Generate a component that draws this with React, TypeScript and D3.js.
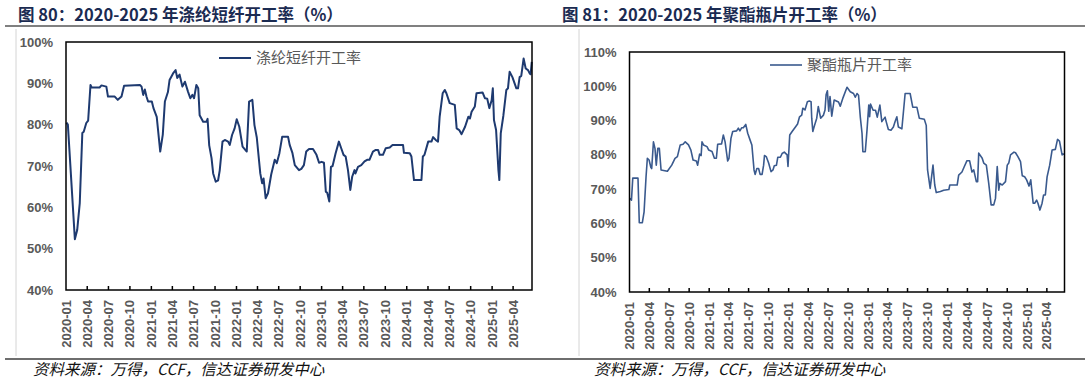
import React from 'react';
import * as d3 from 'd3';

// 涤纶短纤开工率 (%), weekly readings
const fiberDates = [
  '2020-01-03', '2020-01-09', '2020-02-08', '2020-02-18', '2020-02-29', '2020-03-11', '2020-03-17', '2020-03-28',
  '2020-04-05', '2020-04-15', '2020-04-20', '2020-05-24', '2020-06-01', '2020-06-22', '2020-06-29', '2020-07-28',
  '2020-08-10', '2020-08-26', '2020-09-06', '2020-11-13', '2020-11-20', '2020-11-27', '2020-12-04', '2020-12-11',
  '2020-12-18', '2021-01-03', '2021-01-10', '2021-01-24', '2021-02-08', '2021-02-19', '2021-02-28', '2021-03-13',
  '2021-03-20', '2021-04-04', '2021-04-15', '2021-04-22', '2021-05-02', '2021-05-14', '2021-05-25', '2021-06-07',
  '2021-06-17', '2021-06-26', '2021-07-03', '2021-07-13', '2021-07-21', '2021-07-27', '2021-08-11', '2021-08-25',
  '2021-08-30', '2021-09-06', '2021-09-16', '2021-09-23', '2021-10-04', '2021-10-14', '2021-10-21', '2021-11-02',
  '2021-11-12', '2021-11-26', '2021-12-03', '2021-12-13', '2021-12-24', '2022-01-02', '2022-01-13', '2022-01-27',
  '2022-02-14', '2022-02-24', '2022-03-10', '2022-03-19', '2022-03-29', '2022-04-13', '2022-04-21', '2022-04-27',
  '2022-05-06', '2022-05-16', '2022-05-30', '2022-06-14', '2022-06-23', '2022-07-04', '2022-07-16', '2022-08-10',
  '2022-08-17', '2022-08-29', '2022-09-08', '2022-09-26', '2022-10-06', '2022-10-17', '2022-10-27', '2022-11-08',
  '2022-11-25', '2022-12-10', '2022-12-21', '2023-01-01', '2023-01-11', '2023-01-19', '2023-01-25', '2023-02-03',
  '2023-02-10', '2023-02-17', '2023-03-02', '2023-03-16', '2023-03-26', '2023-04-05', '2023-04-14', '2023-04-24',
  '2023-05-04', '2023-05-12', '2023-05-22', '2023-05-26', '2023-06-06', '2023-06-20', '2023-07-04', '2023-07-15',
  '2023-07-25', '2023-08-09', '2023-08-21', '2023-08-31', '2023-09-07', '2023-09-21', '2023-10-03', '2023-10-20',
  '2023-11-01', '2023-12-16', '2023-12-20', '2024-01-14', '2024-01-21', '2024-02-01', '2024-03-04', '2024-03-10',
  '2024-03-17', '2024-04-02', '2024-04-16', '2024-04-23', '2024-05-04', '2024-05-14', '2024-05-21', '2024-06-03',
  '2024-06-12', '2024-06-19', '2024-07-03', '2024-07-25', '2024-08-02', '2024-08-13', '2024-08-23', '2024-09-07',
  '2024-09-21', '2024-09-28', '2024-10-05', '2024-10-19', '2024-10-26', '2024-11-21', '2024-12-01', '2024-12-11',
  '2024-12-20', '2024-12-30', '2025-01-04', '2025-01-09', '2025-01-18', '2025-01-28', '2025-02-01', '2025-02-07',
  '2025-02-18', '2025-03-03', '2025-03-10', '2025-03-17', '2025-03-29', '2025-04-15', '2025-04-22', '2025-04-29',
  '2025-05-06', '2025-05-16', '2025-05-25', '2025-06-04', '2025-06-11', '2025-06-15', '2025-06-20',
];
const fiberRates = [
  80.5, 80, 52.3, 54.5, 61, 78, 78.3, 80.4,
  81, 89.6, 89, 89, 89.5, 89.2, 86.8, 86.8,
  86, 86.8, 89.4, 89.6, 89.2, 87.2, 88.5, 86.8,
  85.6, 85.6, 84, 81.9, 73.5, 77.6, 85.6, 87.9,
  90.8, 92.4, 93.2, 91.3, 92.1, 89.2, 90.4, 88,
  86.4, 87.2, 86.4, 89.6, 88.8, 82.3, 80.7, 80.7,
  81.4, 75, 71.9, 68.2, 66.2, 66.5, 68.9, 75.9,
  76.3, 75.9, 75.1, 77.5, 79.1, 81.3, 79.5, 74.7,
  73.5, 85.6, 86, 79.9, 76.9, 68.2, 65.8, 67,
  62.2, 63.4, 68, 71.5, 70.7, 73.1, 77.1, 77.1,
  75.1, 73.1, 70.2, 69, 69.3, 70.2, 73.5, 74.1,
  74.1, 72.7, 70.8, 71, 70.8, 63.8, 63.5, 61.4,
  69.8, 70, 73.1, 75.9, 74.3, 72.7, 72.3, 69,
  64.2, 67.4, 69, 68.2, 69.8, 70.2, 71.1, 71.5,
  71.5, 73.5, 73.9, 73.9, 72.7, 72.7, 74.3, 74.5,
  75.1, 75.1, 73.2, 73.1, 72.3, 66.6, 66.6, 72.3,
  72.7, 75.9, 75.9, 77, 76.3, 75.9, 81.9, 87.6,
  88.4, 87.6, 85.2, 84.8, 79.1, 78.7, 77.7, 79.5,
  81.9, 81.5, 83.1, 84.4, 87.6, 87.8, 86.4, 86.3,
  84, 85.9, 88.8, 81.1, 78.7, 69, 66.6, 77.9,
  82.1, 88.4, 88.8, 92.8, 91.5, 88.8, 88.8, 91.5,
  91.8, 96, 93.6, 93.2, 92.4, 92.2, 95.2,
];

// 聚酯瓶片开工率 (%)
const chipDates = [
  '2020-01-03', '2020-01-10', '2020-01-16', '2020-02-09', '2020-02-15', '2020-02-29', '2020-03-08', '2020-03-17',
  '2020-03-23', '2020-03-31', '2020-04-08', '2020-04-12', '2020-04-20', '2020-04-27', '2020-05-03', '2020-05-10',
  '2020-05-17', '2020-05-25', '2020-06-23', '2020-07-13', '2020-07-28', '2020-08-08', '2020-08-21', '2020-09-03',
  '2020-09-13', '2020-09-28', '2020-10-09', '2020-10-19', '2020-11-03', '2020-11-09', '2020-11-18', '2020-11-25',
  '2020-11-29', '2020-12-06', '2020-12-22', '2020-12-30', '2021-01-14', '2021-01-25', '2021-02-03', '2021-02-09',
  '2021-02-27', '2021-03-07', '2021-03-15', '2021-03-27', '2021-04-02', '2021-04-11', '2021-04-19', '2021-05-07',
  '2021-05-15', '2021-05-22', '2021-05-30', '2021-06-07', '2021-06-18', '2021-06-27', '2021-07-08', '2021-07-16',
  '2021-07-26', '2021-07-31', '2021-08-08', '2021-08-16', '2021-08-23', '2021-09-01', '2021-09-08', '2021-09-12',
  '2021-09-20', '2021-10-01', '2021-10-12', '2021-10-21', '2021-10-27', '2021-11-06', '2021-11-12', '2021-11-24',
  '2021-12-02', '2021-12-12', '2021-12-25', '2021-12-29', '2022-01-06', '2022-01-17', '2022-02-02', '2022-02-11',
  '2022-02-20', '2022-03-02', '2022-03-07', '2022-03-17', '2022-03-28', '2022-04-06', '2022-04-14', '2022-04-17',
  '2022-04-22', '2022-04-28', '2022-05-10', '2022-05-17', '2022-05-28', '2022-06-10', '2022-06-17', '2022-06-22',
  '2022-06-28', '2022-07-04', '2022-07-10', '2022-07-18', '2022-07-29', '2022-08-18', '2022-08-26', '2022-09-08',
  '2022-09-26', '2022-10-11', '2022-10-26', '2022-11-03', '2022-11-11', '2022-11-18', '2022-11-26', '2022-12-04',
  '2022-12-08', '2022-12-19', '2022-12-27', '2023-01-04', '2023-01-08', '2023-01-12', '2023-01-24', '2023-02-04',
  '2023-02-12', '2023-02-24', '2023-03-05', '2023-03-20', '2023-03-25', '2023-04-04', '2023-04-16', '2023-04-27',
  '2023-05-05', '2023-05-13', '2023-05-20', '2023-06-05', '2023-06-20', '2023-07-13', '2023-07-25', '2023-08-13',
  '2023-08-24', '2023-09-16', '2023-09-25', '2023-10-01', '2023-10-13', '2023-10-26', '2023-11-03', '2023-11-10',
  '2023-11-29', '2023-12-14', '2024-01-07', '2024-01-11', '2024-02-14', '2024-02-21', '2024-03-07', '2024-03-18',
  '2024-03-30', '2024-04-11', '2024-04-22', '2024-04-30', '2024-05-12', '2024-05-18', '2024-05-23', '2024-06-08',
  '2024-06-15', '2024-06-27', '2024-07-08', '2024-07-19', '2024-07-31', '2024-08-08', '2024-08-16', '2024-08-23',
  '2024-08-28', '2024-09-08', '2024-09-23', '2024-10-01', '2024-10-08', '2024-10-16', '2024-11-01', '2024-11-08',
  '2024-11-19', '2024-12-01', '2024-12-09', '2024-12-20', '2024-12-29', '2025-01-09', '2025-01-17', '2025-01-28',
  '2025-02-04', '2025-02-13', '2025-02-19', '2025-02-28', '2025-03-10', '2025-03-17', '2025-03-25', '2025-04-02',
  '2025-04-14', '2025-04-25', '2025-05-10', '2025-05-20', '2025-05-29', '2025-06-10', '2025-06-21',
];
const chipRates = [
  67.3, 66.8, 73.2, 73.2, 60.2, 60.2, 63.4, 73.6,
  79, 78.5, 76.4, 76, 83.8, 81.9, 77, 81.9,
  81.9, 75.6, 75.2, 77, 79, 79.5, 82.9, 83.1,
  83.8, 82.9, 81.4, 78.5, 78.2, 77, 80.2, 79.8,
  83.8, 82.9, 82.4, 81.4, 81, 79, 79, 83.1,
  83.2, 85.8, 83.8, 78.2, 79, 84.8, 86.8, 87,
  87.8, 87, 87.9, 87.9, 88.9, 86.3, 84.3, 82.9,
  75.6, 74.3, 76, 76, 74.3, 74.3, 77, 79.8,
  79.5, 77.6, 75.1, 75.6, 76.8, 77, 79.3, 79.3,
  80.4, 80.8, 80, 76.6, 85.8, 86.8, 88.2, 89,
  91.1, 91.6, 93.6, 93.1, 95.5, 95.7, 95.5, 90.7,
  86.8, 88.2, 90.7, 94.1, 90.7, 91.6, 93.1, 97.5,
  98.7, 92.7, 97, 91.3, 96, 95.4, 94.2, 96.7,
  99.7, 98.4, 97.9, 96.8, 97.9, 97.4, 91.1, 86.3,
  80.9, 80.9, 87.3, 94.5, 91.1, 94.8, 93, 93,
  91, 94.5, 89.7, 91, 89.7, 87.4, 87.2, 88.1,
  89.7, 91.1, 88.1, 87.6, 97.9, 97.9, 93.9, 93.9,
  90.7, 90.4, 88.6, 75.6, 70.2, 77, 71.2, 69,
  69.3, 69.7, 69.9, 71.2, 71.2, 74.1, 75, 76.6,
  78.3, 78.3, 75, 75.6, 72.2, 72.2, 80.5, 79,
  77.6, 77, 71.7, 65.4, 65.4, 67.3, 76.6, 69.7,
  71.7, 71.2, 72.2, 77, 77.6, 80, 80.8, 80.6,
  79.5, 78, 73.9, 73.6, 72.7, 70.9, 72.7, 65.9,
  65.9, 66.8, 65.9, 63.9, 65.9, 68.3, 68.3, 73.6,
  77, 81.4, 81.6, 84.5, 84, 80, 80.3,
];

const xTickLabels = [
  '2020-01', '2020-04', '2020-07', '2020-10', '2021-01', '2021-04', '2021-07', '2021-10',
  '2022-01', '2022-04', '2022-07', '2022-10', '2023-01', '2023-04', '2023-07', '2023-10',
  '2024-01', '2024-04', '2024-07', '2024-10', '2025-01', '2025-04',
];
const fiberYTicks = [40, 50, 60, 70, 80, 90, 100];
const chipYTicks = [40, 50, 60, 70, 80, 90, 100, 110];

const xStart = '2020-01-01';
const xEnd = '2025-06-21';

const parseDay = d3.timeParse('%Y-%m-%d');
const parseMonth = d3.timeParse('%Y-%m');

const labelFont = '"Liberation Sans", Arial, sans-serif';
const cjkFont = '"Noto Sans CJK SC", sans-serif';

interface PanelProps {
  title: string;
  legend: string;
  dates: string[];
  rates: number[];
  yTicks: number[];
  color: string;
  lineWidth: number;
  titleX: number;
  frameX: number;
  left: number;
  right: number;
  top: number;
  bottom: number;
  legendX: number;
  legendY: number;
}

const Panel: React.FC<PanelProps> = (p) => {
  const x = d3.scaleTime()
    .domain([parseDay(xStart) as Date, parseDay(xEnd) as Date])
    .range([p.left, p.right]);
  const y = d3.scaleLinear()
    .domain(d3.extent(p.yTicks) as [number, number])
    .range([p.bottom, p.top]);

  const points = p.dates.map((d, i) => ({ date: parseDay(d) as Date, value: p.rates[i] }));
  const line = d3.line<{ date: Date, value: number }>()
    .x(d => x(d.date))
    .y(d => y(d.value));

  const ticks = xTickLabels.map(l => ({ label: l, pos: x(parseMonth(l) as Date) }));

  return (
    <g>
      <text x={p.titleX} y={21} fontFamily={cjkFont} fontWeight="bold" fontSize={16.5} fill="#1B2B52">
        {p.title}
      </text>
      <line x1={p.frameX} x2={p.frameX} y1={29} y2={356} stroke="#d4d4d4" strokeWidth={1} />

      <path d={line(points) ?? ''} fill="none" stroke={p.color} strokeWidth={p.lineWidth} strokeLinejoin="round" />

      <rect x={p.left} y={p.top} width={p.right - p.left} height={p.bottom - p.top}
        fill="none" stroke="#000" strokeWidth={1.5} />

      {ticks.slice(1).map(t => (
        <line key={t.label} x1={t.pos} x2={t.pos} y1={p.bottom} y2={p.bottom - 4} stroke="#000" strokeWidth={1.5} />
      ))}
      {ticks.map(t => (
        <text key={t.label} transform={`translate(${t.pos},${p.bottom + 10}) rotate(-90)`}
          textAnchor="end" dy="0.35em" fontFamily={labelFont} fontWeight="bold" fontSize={13} fill="#595959">
          {t.label}
        </text>
      ))}

      {p.yTicks.map(v => (
        <text key={v} x={p.left - 13} y={y(v)} dy="0.35em" textAnchor="end"
          fontFamily={labelFont} fontWeight="bold" fontSize={13} fill="#595959">
          {v}%
        </text>
      ))}

      <line x1={p.legendX} x2={p.legendX + 32} y1={p.legendY} y2={p.legendY} stroke={p.color} strokeWidth={p.lineWidth} />
      <text x={p.legendX + 37} y={p.legendY} dy="0.36em" fontFamily={cjkFont} fontSize={15} fill="#595959">
        {p.legend}
      </text>
    </g>
  );
};

const App: React.FC = () => {
  const width = 1088;
  const height = 384;
  return (
    <svg width={width} height={height} viewBox={`0 0 ${width} ${height}`}
      style={{ position: 'absolute', left: 0, top: 0, background: '#fff' }}>
      <rect width={width} height={height} fill="#fff" />
      <line x1={5} x2={1085} y1={26} y2={26} stroke="#808080" strokeWidth={2} />
      <line x1={5} x2={1085} y1={359} y2={359} stroke="#6e6e6e" strokeWidth={2} />

      <Panel title="图 80：2020-2025 年涤纶短纤开工率（%）" legend="涤纶短纤开工率"
        dates={fiberDates} rates={fiberRates} yTicks={fiberYTicks}
        color="#1E3A70" lineWidth={2}
        titleX={18} frameX={16} left={66} right={532} top={42} bottom={290}
        legendX={219} legendY={58} />

      <Panel title="图 81：2020-2025 年聚酯瓶片开工率（%）" legend="聚酯瓶片开工率"
        dates={chipDates} rates={chipRates} yTicks={chipYTicks}
        color="#3A5A8E" lineWidth={1.6}
        titleX={562} frameX={579} left={629.5} right={1064.5} top={52} bottom={292}
        legendX={770} legendY={65} />

      <text x={33} y={375} fontFamily={cjkFont} fontStyle="italic" fontSize={15.5} fill="#111">
        资料来源：万得，CCF，信达证券研发中心
      </text>
      <text x={594} y={375} fontFamily={cjkFont} fontStyle="italic" fontSize={15.5} fill="#111">
        资料来源：万得，CCF，信达证券研发中心
      </text>
    </svg>
  );
};

export default App;
